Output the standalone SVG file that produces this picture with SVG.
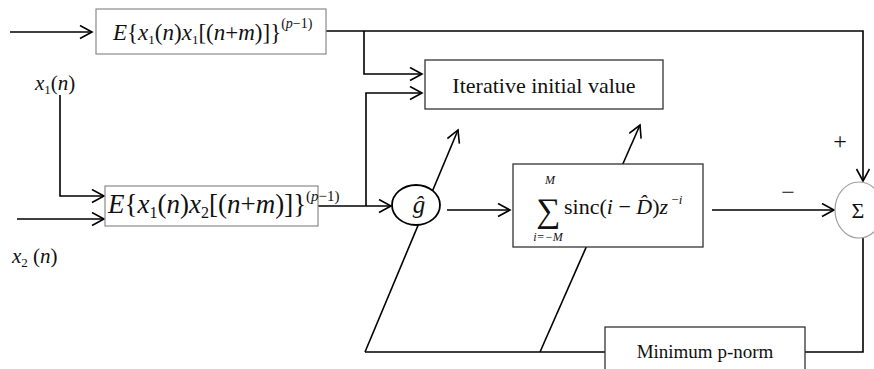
<svg xmlns="http://www.w3.org/2000/svg" width="874" height="369" viewBox="0 0 874 369">
<style>
.ln{fill:none;stroke:#000;stroke-width:1.6}
.box{fill:#fff;stroke:#8a8a8a;stroke-width:1.2}
.box2{fill:#fff;stroke:#333;stroke-width:1.3}
.t{font-family:"Liberation Serif","Times New Roman","DejaVu Serif",serif;fill:#111}
.i{font-style:italic}
</style>
<defs>
<marker id="ah" markerWidth="16" markerHeight="16" refX="13" refY="7" orient="auto" markerUnits="userSpaceOnUse">
<path d="M1,0.5 L13,7 L1,13.5" fill="none" stroke="#000" stroke-width="1.6"/>
</marker>
</defs>
<g id="connectors">
<path class="ln" d="M10,32 H92" marker-end="url(#ah)"/>
<path class="ln" d="M326,31 H863 V181" marker-end="url(#ah)"/>
<path class="ln" d="M364,31 V74 H422" marker-end="url(#ah)"/>
<path class="ln" d="M366,206 V93 H422" marker-end="url(#ah)"/>
<path class="ln" d="M60,95 V196 H104" marker-end="url(#ah)"/>
<path class="ln" d="M17,219 H104" marker-end="url(#ah)"/>
<path class="ln" d="M318,206 H391" marker-end="url(#ah)"/>
<path class="ln" d="M447,210 H510" marker-end="url(#ah)"/>
<path class="ln" d="M712,210 H834" marker-end="url(#ah)"/>
<path class="ln" d="M365,352 L458,130" marker-end="url(#ah)"/>
<path class="ln" d="M540,352 L640,125" marker-end="url(#ah)"/>
<path class="ln" d="M365,352 H863 V238"/>
</g>
<g id="node-top">
<rect class="box" x="96" y="9" width="230" height="45"/>
<text class="t" x="113" y="40" font-size="23"><tspan class="i">E</tspan>{<tspan class="i">x</tspan><tspan font-size="13" dy="4">1</tspan><tspan dy="-4">(</tspan><tspan class="i">n</tspan>)<tspan class="i">x</tspan><tspan font-size="13" dy="4">1</tspan><tspan dy="-4">[(</tspan><tspan class="i">n</tspan>+<tspan class="i">m</tspan>)]}<tspan font-size="14" dy="-12">(</tspan><tspan font-size="14" class="i">p</tspan><tspan font-size="14">−1)</tspan></text>
</g>
<g id="node-iterative">
<rect class="box2" x="425" y="60" width="238" height="49"/>
<text class="t" x="544" y="93" font-size="22" text-anchor="middle">Iterative initial value</text>
</g>
<g id="label-x1">
<text class="t" x="35" y="90" font-size="21"><tspan class="i">x</tspan><tspan font-size="13" dy="4">1</tspan><tspan dy="-4">(</tspan><tspan class="i">n</tspan>)</text>
</g>
<g id="label-x2">
<text class="t" x="12" y="263" font-size="21"><tspan class="i">x</tspan><tspan font-size="13" dy="4">2</tspan><tspan dy="-4"> (</tspan><tspan class="i">n</tspan>)</text>
</g>
<g id="node-bottom">
<rect class="box" x="105" y="186" width="213" height="40"/>
<text class="t" x="108" y="213" font-size="27"><tspan class="i">E</tspan>{<tspan class="i">x</tspan><tspan font-size="16" dy="5">1</tspan><tspan dy="-5">(</tspan><tspan class="i">n</tspan>)<tspan class="i">x</tspan><tspan font-size="16" dy="5">2</tspan><tspan dy="-5">[(</tspan><tspan class="i">n</tspan>+<tspan class="i">m</tspan>)]}<tspan font-size="15" dy="-12">(</tspan><tspan font-size="15" class="i">p</tspan><tspan font-size="15">−1)</tspan></text>
</g>
<g id="node-g">
<ellipse cx="416" cy="205" rx="24" ry="20" fill="#fff" stroke="#000" stroke-width="1.8"/>
<text class="t i" x="419" y="213" font-size="25" text-anchor="middle">ĝ</text>
</g>
<g id="node-sum-filter">
<rect class="box2" x="513" y="164" width="190" height="83"/>
<text class="t" x="548" y="222" font-size="34" text-anchor="middle">∑</text>
<text class="t i" x="550" y="184" font-size="12" text-anchor="middle">M</text>
<text class="t i" x="548" y="241" font-size="12" text-anchor="middle">i=−M</text>
<text class="t" x="564" y="214" font-size="22">sinc(<tspan class="i">i</tspan> − <tspan class="i">D̂</tspan>)<tspan class="i">z</tspan><tspan font-size="13" dy="-10"> −</tspan><tspan font-size="13" class="i">i</tspan></text>
</g>
<g id="node-sigma">
<ellipse cx="859" cy="210" rx="24" ry="28" fill="#fff" stroke="#a0a0a0" stroke-width="1.2"/>
<text class="t" x="858" y="218" font-size="22" text-anchor="middle">Σ</text>
<text class="t" x="840" y="149" font-size="24" fill="#222" text-anchor="middle">+</text>
<text class="t" x="788" y="200" font-size="24" fill="#222" text-anchor="middle">−</text>
</g>
<g id="node-minp">
<rect class="box2" x="605" y="327" width="200" height="50"/>
<text class="t" x="705" y="358" font-size="19" text-anchor="middle">Minimum p-norm</text>
</g>
</svg>
